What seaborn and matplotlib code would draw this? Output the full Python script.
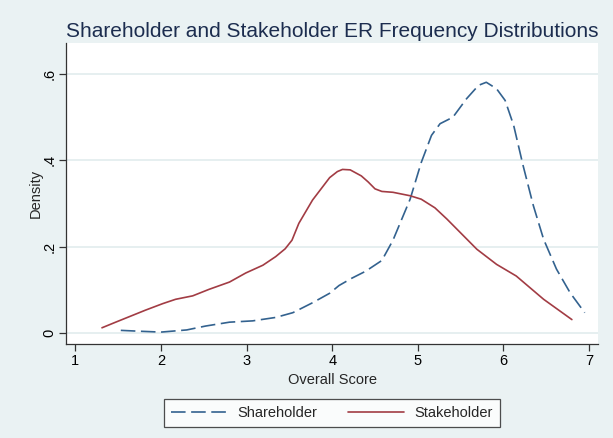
import numpy as np
import pandas as pd
import matplotlib
matplotlib.use("Agg")
import matplotlib.pyplot as plt
import seaborn as sns

# values (kernel density curves)
share_x = [1.53, 1.75, 2.00, 2.30, 2.52, 2.80, 3.07, 3.34, 3.54, 3.77, 3.97, 4.08,
           4.23, 4.39, 4.58, 4.71, 4.91, 5.04, 5.16, 5.26, 5.41, 5.57, 5.71, 5.80,
           5.92, 6.02, 6.12, 6.23, 6.35, 6.47, 6.62, 6.78, 6.95]
share_y = [0.006, 0.004, 0.002, 0.007, 0.016, 0.025, 0.028, 0.036, 0.047, 0.070,
           0.092, 0.110, 0.127, 0.143, 0.168, 0.215, 0.310, 0.395, 0.458, 0.485,
           0.500, 0.543, 0.574, 0.581, 0.566, 0.539, 0.481, 0.388, 0.295, 0.217,
           0.148, 0.093, 0.047]

stake_x = [1.31, 1.47, 1.67, 1.82, 2.02, 2.17, 2.37, 2.56, 2.80, 2.99, 3.19, 3.34,
           3.45, 3.53, 3.61, 3.77, 3.97, 4.06, 4.12, 4.21, 4.34, 4.42, 4.50, 4.58,
           4.71, 4.91, 5.04, 5.20, 5.34, 5.69, 5.92, 6.15, 6.47, 6.80]
stake_y = [0.012, 0.025, 0.041, 0.053, 0.068, 0.078, 0.086, 0.101, 0.118, 0.139,
           0.157, 0.177, 0.195, 0.215, 0.254, 0.308, 0.360, 0.374, 0.379, 0.378,
           0.364, 0.350, 0.334, 0.328, 0.326, 0.318, 0.310, 0.290, 0.264, 0.194,
           0.159, 0.132, 0.078, 0.031]

x_ticks = [1, 2, 3, 4, 5, 6, 7]
y_ticks = [0, 0.2, 0.4, 0.6]
y_tick_labels = ["0", ".2", ".4", ".6"]

df = pd.concat([
    pd.DataFrame({"score": share_x, "density": share_y, "group": "Shareholder"}),
    pd.DataFrame({"score": stake_x, "density": stake_y, "group": "Stakeholder"}),
])

bg = "#eaf2f3"
sns.set_style("white")
plt.rcParams["font.family"] = ["Liberation Sans", "DejaVu Sans"]
plt.rcParams["lines.scale_dashes"] = False

fig = plt.figure(figsize=(6.13, 4.38), dpi=100, facecolor=bg)
ax = fig.add_axes([0.1077, 0.2146, 0.8678, 0.6872])
ax.set_facecolor("white")

sns.lineplot(data=df, x="score", y="density", hue="group", style="group",
             palette={"Shareholder": "#33628f", "Stakeholder": "#a23c44"},
             dashes={"Shareholder": (10.5, 4), "Stakeholder": ""},
             linewidth=1.2, ax=ax, legend=True, sort=False)

ax.set_xlim(0.89, 7.105)
ax.set_ylim(-0.0256, 0.672)
ax.set_xticks(x_ticks)
ax.set_xticklabels([str(t) for t in x_ticks], fontsize=10.5)
ax.set_yticks(y_ticks)
ax.set_yticklabels(y_tick_labels, fontsize=10.5, rotation=90, va="center")
ax.grid(axis="y", color="#e1ecee", linewidth=1.2)
ax.grid(axis="x", visible=False)
ax.set_axisbelow(True)

for s in ["top", "right"]:
    ax.spines[s].set_visible(False)
for s in ["left", "bottom"]:
    ax.spines[s].set_color("#333333")
    ax.spines[s].set_linewidth(0.9)
ax.tick_params(axis="both", direction="out", length=5, width=0.9,
               color="#333333", labelcolor="black", pad=2, bottom=True, left=True)

ax.set_xlabel("Overall Score", fontsize=10.5, labelpad=4)
ax.set_ylabel("Density", fontsize=10.5, labelpad=0)
ax.set_title("Shareholder and Stakeholder ER Frequency Distributions",
             fontsize=15, color="#1c2d4f", pad=4)

handles, labels = ax.get_legend_handles_labels()
ax.legend_.remove()
leg = fig.legend(handles, labels, loc="center", bbox_to_anchor=(332 / 613, 1 - 413 / 438),
                 ncol=2, fontsize=10.5, frameon=True, fancybox=False,
                 handlelength=3.8, handletextpad=0.75, columnspacing=2.15,
                 borderpad=0.5)
leg.get_frame().set_edgecolor("#222222")
leg.get_frame().set_linewidth(0.9)
leg.get_frame().set_facecolor("white")

fig.savefig("out.png", dpi=100, facecolor=bg)
